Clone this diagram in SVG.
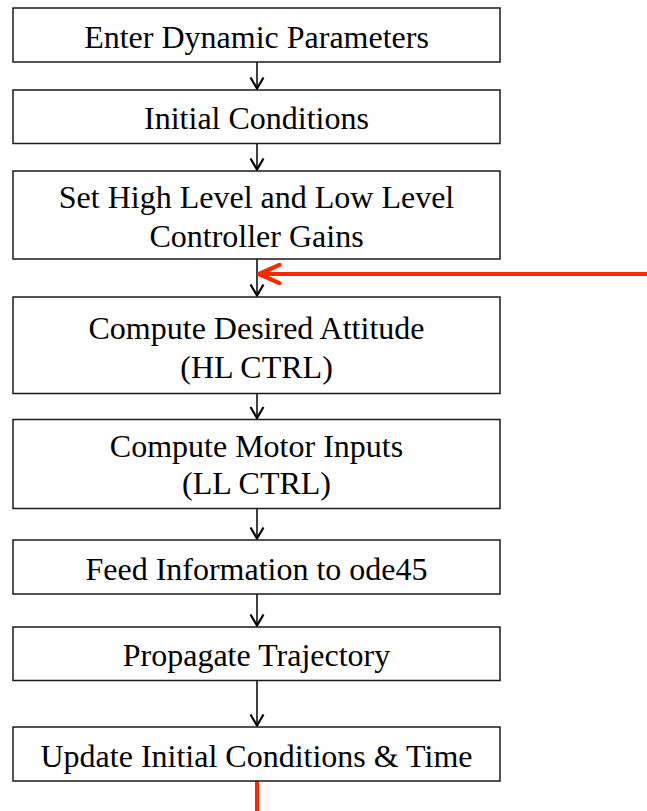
<svg xmlns="http://www.w3.org/2000/svg" width="647" height="811" viewBox="0 0 647 811">
<style>
.box{fill:#fff;stroke:#1a1a1a;stroke-width:1.5}
.lbl{font-family:"Liberation Serif","Times New Roman",serif;font-size:32px;fill:#000;text-anchor:middle}
.flow{stroke:#000;stroke-width:1.5;fill:none}
.loop{stroke:#ff2600;stroke-width:4;fill:none}
</style>
<defs>
<marker id="ah" markerUnits="userSpaceOnUse" markerWidth="20" markerHeight="20" viewBox="-14 -10 16 20" refX="0" refY="0" orient="auto">
<path d="M-11,-6.5 L0,0 L-11,6.5" fill="none" stroke="#000" stroke-width="2.2"/>
</marker>
<marker id="ahr" markerUnits="userSpaceOnUse" markerWidth="30" markerHeight="30" viewBox="-24 -14 28 28" refX="0" refY="0" orient="auto">
<path d="M-19,-8.5 L0,0 L-19,8.5" fill="none" stroke="#ff2600" stroke-width="4" stroke-linecap="round" stroke-linejoin="round"/>
</marker>
</defs>
<g id="connectors">
<line class="flow" x1="257" y1="62" x2="257" y2="88.5" marker-end="url(#ah)"/>
<line class="flow" x1="257" y1="143.5" x2="257" y2="169.5" marker-end="url(#ah)"/>
<line class="flow" x1="257" y1="259" x2="257" y2="295.5" marker-end="url(#ah)"/>
<line class="flow" x1="257" y1="393.5" x2="257" y2="418" marker-end="url(#ah)"/>
<line class="flow" x1="257" y1="508.5" x2="257" y2="538.5" marker-end="url(#ah)"/>
<line class="flow" x1="257" y1="594" x2="257" y2="625.5" marker-end="url(#ah)"/>
<line class="flow" x1="257" y1="680.5" x2="257" y2="725.5" marker-end="url(#ah)"/>
<line class="loop" x1="647" y1="274" x2="259" y2="274" marker-end="url(#ahr)"/>
<line class="loop" x1="257" y1="781" x2="257" y2="811"/>
</g>
<g id="n1"><rect class="box" x="13" y="8" width="487" height="54"/><text class="lbl" x="256.5" y="48.3">Enter Dynamic Parameters</text></g>
<g id="n2"><rect class="box" x="13" y="90" width="487" height="53.5"/><text class="lbl" x="256.5" y="129.3">Initial Conditions</text></g>
<g id="n3"><rect class="box" x="13" y="171" width="487" height="88"/><text class="lbl" x="256.5" y="208.3">Set High Level and Low Level</text><text class="lbl" x="256.5" y="246.7">Controller Gains</text></g>
<g id="n4"><rect class="box" x="13" y="297" width="487" height="96.5"/><text class="lbl" x="256.5" y="339.3">Compute Desired Attitude</text><text class="lbl" x="256.5" y="377.7">(HL CTRL)</text></g>
<g id="n5"><rect class="box" x="13" y="419.5" width="487" height="89"/><text class="lbl" x="256.5" y="456.7">Compute Motor Inputs</text><text class="lbl" x="256.5" y="494.3">(LL CTRL)</text></g>
<g id="n6"><rect class="box" x="13" y="540" width="487" height="54"/><text class="lbl" x="256.5" y="580">Feed Information to ode45</text></g>
<g id="n7"><rect class="box" x="13" y="627" width="487" height="53.5"/><text class="lbl" x="256.5" y="666">Propagate Trajectory</text></g>
<g id="n8"><rect class="box" x="13" y="727" width="487" height="54"/><text class="lbl" x="256.5" y="766.7">Update Initial Conditions &amp; Time</text></g>
</svg>
